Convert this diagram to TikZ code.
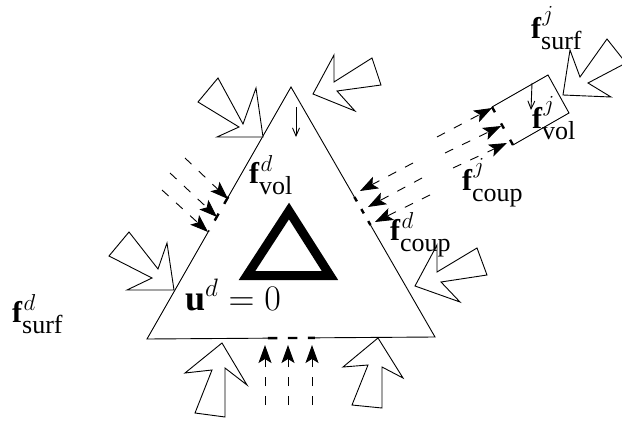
\RequirePackage{fix-cm}
\documentclass[tikz,border=0pt]{standalone}
\usepackage[no-math]{fontspec}
\newfontfamily\timesfont{Liberation Serif}
\usetikzlibrary{arrows.meta,calc}

% force term: bold f with a superscript domain and a subscript kind
\newsavebox\supbox
\newcommand{\fterm}[2]{%
  {\fontsize{30}{30}\selectfont\timesfont\bfseries f}%
  \sbox\supbox{\fontsize{23}{23}\selectfont$#1$}%
  \rlap{\hspace{1.5pt}\raisebox{\dimexpr12pt+\dp\supbox\relax}{\usebox\supbox}}%
  \raisebox{-11pt}{\fontsize{26}{26}\selectfont\timesfont #2}}

\begin{document}
\begin{tikzpicture}[
		x=1pt, y=-1pt,
		boundary/.style={line width=0.9pt},
		interface/.style={line width=2.4pt},
		loadarrow/.style={draw, fill=white, line width=0.9pt, line join=miter},
		couparrow/.style={line width=0.9pt, dash pattern=on 9pt off 10pt, -{Stealth[length=18pt, width=13pt, inset=4pt]}},
		volarrow/.style={line width=0.9pt, -{Straight Barb[length=8pt, width=7pt]}},
		dirichlet/.style={line width=9pt, line join=miter},
		flabel/.style={anchor=base west, inner sep=0pt}
		]
		\useasboundingbox (0,0) rectangle (622,423);

		% Subdomain d (triangle)
		\coordinate (A) at (291,87);
		\coordinate (B) at (147,339);
		\coordinate (C) at (435,337);
		\coordinate (L1) at ($(A)!0.436!(B)$);
		\coordinate (L2) at ($(A)!0.571!(B)$);
		\coordinate (R1) at ($(A)!0.44!(C)$);
		\coordinate (R2) at ($(A)!0.552!(C)$);
		\coordinate (D1) at ($(B)!0.42!(C)$);
		\coordinate (D2) at ($(B)!0.583!(C)$);

		\draw[boundary] (L1) -- (A) -- (R1);
		\draw[boundary] (R2) -- (C) -- (D2);
		\draw[boundary] (D1) -- (B) -- (L2);

		% Interfaces of d
		\draw[interface, dash pattern=on 8pt off 11.3pt] (L1) -- (L2);
		\draw[interface, dash pattern=on 5pt off 8.9pt] (R1) -- (R2);
		\draw[interface, dash pattern=on 9.5pt off 10.5pt] (D1) -- (D2);

		% Subdomain j (rectangle)
		\coordinate (P1) at (492,107);
		\coordinate (P2) at (548,75);
		\coordinate (P3) at (569,113);
		\coordinate (P4) at (513,145);
		\draw[boundary] (P1) -- (P2) -- (P3) -- (P4);
		\draw[interface, dash pattern=on 6pt off 12.7pt] (P1) -- (P4);

		% Fixed part (u = 0)
		\coordinate (T1) at (289,211);
		\coordinate (T2) at (247,275.5);
		\coordinate (T3) at (330,275.5);
		\draw[dirichlet] (T1) -- (T2) -- (T3) -- cycle;

		% Surface loads
		\draw[loadarrow] (263,137) -- (256,88) -- (243,124) -- (218,78) -- (198,102) -- (239,127) -- (217,137) -- cycle;
		\draw[loadarrow] (313,94) -- (334,55) -- (334,82) -- (372,58) -- (381,85) -- (337,91) -- (355,111) -- cycle;
		\draw[loadarrow] (174,290) -- (167,243) -- (158,269) -- (129,232) -- (109,256) -- (152,278) -- (127,290) -- cycle;
		\draw[loadarrow] (415,286) -- (437,245) -- (437,272) -- (477,248) -- (487,275) -- (441,282) -- (460,302) -- cycle;
		\draw[loadarrow] (222,343) -- (247,385) -- (225,368) -- (225,417) -- (195,413) -- (212,370) -- (185,373) -- cycle;
		\draw[loadarrow] (378,338) -- (403,378) -- (382,367) -- (382,408) -- (352,405) -- (368,365) -- (343,367) -- cycle;
		\draw[loadarrow] (563,95) -- (570,50) -- (580,77) -- (607,39) -- (626,63) -- (588,83) -- (611,97) -- cycle;

		% Volume loads
		\coordinate (gd0) at (296,107);
		\coordinate (gd1) at (296,137);
		\draw[volarrow] (gd0) -- (gd1);
		\coordinate (gj0) at (532,83);
		\coordinate (gj1) at (531,110);
		\draw[volarrow] (gj0) -- (gj1);

		% Coupling forces
		\foreach \sx/\sy/\tx/\ty [count=\i] in {185/158/228/199, 170/173/217/217, 162/190/208/232} {
			\coordinate (lsrc\i) at (\sx,\sy);
			\coordinate (ldst\i) at (\tx,\ty);
			\draw[couparrow] (lsrc\i) -- (ldst\i);
		}
		\foreach \sx/\tx [count=\i] in {265/265, 288/288, 312/312} {
			\coordinate (bsrc\i) at (\sx,405);
			\coordinate (bdst\i) at (\tx,345);
			\draw[couparrow] (bsrc\i) -- (bdst\i);
		}
		\foreach \sx/\sy/\tx/\ty [count=\i] in {413/163/360/191, 422/178/368/207, 430/195/375/222} {
			\coordinate (rsrc\i) at (\sx,\sy);
			\coordinate (rdst\i) at (\tx,\ty);
			\draw[couparrow] (rsrc\i) -- (rdst\i);
		}
		\foreach \sx/\sy/\tx/\ty [count=\i] in {437/137/492/108, 445/153/501/126, 453/168/507/143} {
			\coordinate (jsrc\i) at (\sx,\sy);
			\coordinate (jdst\i) at (\tx,\ty);
			\draw[couparrow] (jsrc\i) -- (jdst\i);
		}

		% Labels
		\node[flabel] (fvold) at (249,183) {\fterm{d}{vol}};
		\node[flabel] (fsurfd) at (12,322) {\fterm{d}{surf}};
		\node[flabel] (fcoupd) at (390,240) {\fterm{d}{coup}};
		\node[flabel] (fsurfj) at (531,38) {\fterm{j}{surf}};
		\node[flabel] (fvolj) at (532,128) {\fterm{j}{vol}};
		\node[flabel] (fcoupj) at (462,190) {\fterm{j}{coup}};
		\node[flabel] (ud) at (185,310) {\fontsize{36}{36}\selectfont{\timesfont\bfseries u}$^{\scriptstyle d}\mathrel{=}0$};

	\end{tikzpicture}
\end{document}
